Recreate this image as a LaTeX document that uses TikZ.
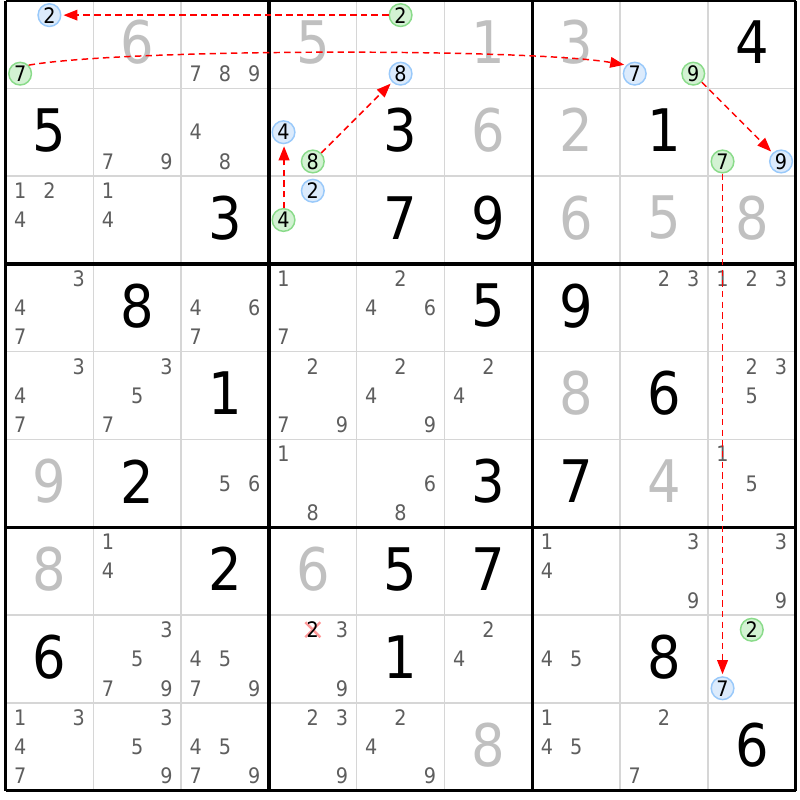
\documentclass[tikz,border=0pt]{standalone}
\usepackage{fontspec}
\setmainfont{DejaVu Sans}[FakeStretch=0.9]
\usetikzlibrary{arrows.meta}
\definecolor{solvedgray}{HTML}{C0C0C0}
\definecolor{candgray}{HTML}{5E5E5E}
\definecolor{thingray}{HTML}{D6D6D6}
\definecolor{bluefill}{HTML}{DCEBFC}
\definecolor{blueline}{HTML}{99C9FA}
\definecolor{greenfill}{HTML}{D3F2D3}
\definecolor{greenline}{HTML}{8ADB8A}
\definecolor{chainred}{HTML}{FF0000}
\definecolor{crosspink}{HTML}{FF9A9A}
% given / solved digit: row, col, digit
\newcommand\gv[3]{\node[given] (n#1#2) at ({5.5+(#2-0.5)*87.8},{0.5+(#1-0.5)*87.8-2}) {#3};}
\newcommand\sv[3]{\node[solved] (n#1#2) at ({5.5+(#2-0.5)*87.8},{0.5+(#1-0.5)*87.8-2}) {#3};}
% candidates: row, col, list
\newcommand\cd[3]{\foreach \k in {#3}{\node[cand] (n#1#2-\k) at ({5.5+(#2-1)*87.8+(2*mod(\k-1,3)+1)*14.6333},{0.5+(#1-1)*87.8+(2*floor((\k-1)/3)+1)*14.6333}) {\k};}}
% circled candidates: row, col, digit
\newcommand\bc[3]{\node[bluec] (c#1#2#3) at ({5.5+(#2-1)*87.8+(2*mod(#3-1,3)+1)*14.6333},{0.5+(#1-1)*87.8+(2*floor((#3-1)/3)+1)*14.6333}) {#3};}
\newcommand\gc[3]{\node[greenc] (c#1#2#3) at ({5.5+(#2-1)*87.8+(2*mod(#3-1,3)+1)*14.6333},{0.5+(#1-1)*87.8+(2*floor((#3-1)/3)+1)*14.6333}) {#3};}
\begin{document}
\begin{tikzpicture}[x=0.75pt,y=-0.75pt,
  given/.style={font=\fontsize{44}{44}\selectfont, text=black, inner sep=0pt},
  solved/.style={given, text=solvedgray},
  cand/.style={font=\fontsize{16}{16}\selectfont, text=candgray, inner sep=0pt},
  bluec/.style={circle, draw=blueline, fill=bluefill, line width=1.1pt, minimum size=17pt, inner sep=0pt, font=\fontsize{16}{16}\selectfont, text=black},
  greenc/.style={bluec, draw=greenline, fill=greenfill},
  thinline/.style={draw=thingray, line width=1.1pt},
  thickline/.style={draw=black, line width=2.4pt},
  chain/.style={draw=chainred, line width=1.1pt, dash pattern=on 4.8pt off 3.2pt, -{Triangle[length=10.5pt,width=8pt]}, shorten >=1.5pt},
  crossmark/.style={draw=crosspink, line width=1.8pt}]
\useasboundingbox (0,0) rectangle (800,800);
\fill[white] (0,0) rectangle (800,800);
% grid
\foreach \i in {0,...,9}{
  \draw[thinline] ({5.5+\i*87.8},0.5) -- ({5.5+\i*87.8},790.7);
  \draw[thinline] (5.5,{0.5+\i*87.8}) -- (795.7,{0.5+\i*87.8});
}
\foreach \i in {0,3,6,9}{
  \draw[thickline] ({5.5+\i*87.8},0.5) -- ({5.5+\i*87.8},790.7);
  \draw[thickline] (5.5,{0.5+\i*87.8}) -- (795.7,{0.5+\i*87.8});
}
% row 1
\bc{1}{1}{2}\gc{1}{1}{7}
\sv{1}{2}{6}\cd{1}{3}{7,8,9}\sv{1}{4}{5}
\gc{1}{5}{2}\bc{1}{5}{8}
\sv{1}{6}{1}\sv{1}{7}{3}
\bc{1}{8}{7}\gc{1}{8}{9}
\gv{1}{9}{4}
% row 2
\gv{2}{1}{5}\cd{2}{2}{7,9}\cd{2}{3}{4,8}
\bc{2}{4}{4}\gc{2}{4}{8}
\gv{2}{5}{3}\sv{2}{6}{6}\sv{2}{7}{2}\gv{2}{8}{1}
\gc{2}{9}{7}\bc{2}{9}{9}
% row 3
\cd{3}{1}{1,2,4}\cd{3}{2}{1,4}\gv{3}{3}{3}
\bc{3}{4}{2}\gc{3}{4}{4}
\gv{3}{5}{7}\gv{3}{6}{9}\sv{3}{7}{6}\sv{3}{8}{5}\sv{3}{9}{8}
% row 4
\cd{4}{1}{3,4,7}\gv{4}{2}{8}\cd{4}{3}{4,6,7}\cd{4}{4}{1,7}\cd{4}{5}{2,4,6}
\gv{4}{6}{5}\gv{4}{7}{9}\cd{4}{8}{2,3}\cd{4}{9}{1,2,3}
% row 5
\cd{5}{1}{3,4,7}\cd{5}{2}{3,5,7}\gv{5}{3}{1}\cd{5}{4}{2,7,9}\cd{5}{5}{2,4,9}
\cd{5}{6}{2,4}\sv{5}{7}{8}\gv{5}{8}{6}\cd{5}{9}{2,3,5}
% row 6
\sv{6}{1}{9}\gv{6}{2}{2}\cd{6}{3}{5,6}\cd{6}{4}{1,8}\cd{6}{5}{6,8}
\gv{6}{6}{3}\gv{6}{7}{7}\sv{6}{8}{4}\cd{6}{9}{1,5}
% row 7
\sv{7}{1}{8}\cd{7}{2}{1,4}\gv{7}{3}{2}\sv{7}{4}{6}\gv{7}{5}{5}\gv{7}{6}{7}
\cd{7}{7}{1,4}\cd{7}{8}{3,9}\cd{7}{9}{3,9}
% row 8
\gv{8}{1}{6}\cd{8}{2}{3,5,7,9}\cd{8}{3}{4,5,7,9}
\coordinate (x842) at ({5.5+3*87.8+3*14.6333},{0.5+7*87.8+14.6333});
\draw[crossmark] ([shift={(-7.5,-7.5)}]x842) -- ([shift={(7.5,7.5)}]x842);
\draw[crossmark] ([shift={(-7.5,7.5)}]x842) -- ([shift={(7.5,-7.5)}]x842);
\node[cand, text=black] (n84-2) at (x842) {2};
\cd{8}{4}{3,9}\gv{8}{5}{1}\cd{8}{6}{2,4}\cd{8}{7}{4,5}\gv{8}{8}{8}
\gc{8}{9}{2}\bc{8}{9}{7}
% row 9
\cd{9}{1}{1,3,4,7}\cd{9}{2}{3,5,9}\cd{9}{3}{4,5,7,9}\cd{9}{4}{2,3,9}\cd{9}{5}{2,4,9}
\sv{9}{6}{8}\cd{9}{7}{1,4,5}\cd{9}{8}{2,7}\gv{9}{9}{6}
% chain links
\draw[chain] (c152) -- (c112);
\draw[chain] (c117.north east) .. controls (126,48.3) and (529,48.3) .. (c187.north west);
\draw[chain] (c189) -- (c299);
\draw[chain] (c297) -- (c897);
\draw[chain, line width=1.3pt, transform canvas={xshift=0.4pt}] (c344) -- (c244);
\draw[chain] (c248) -- (c158);
\end{tikzpicture}
\end{document}
